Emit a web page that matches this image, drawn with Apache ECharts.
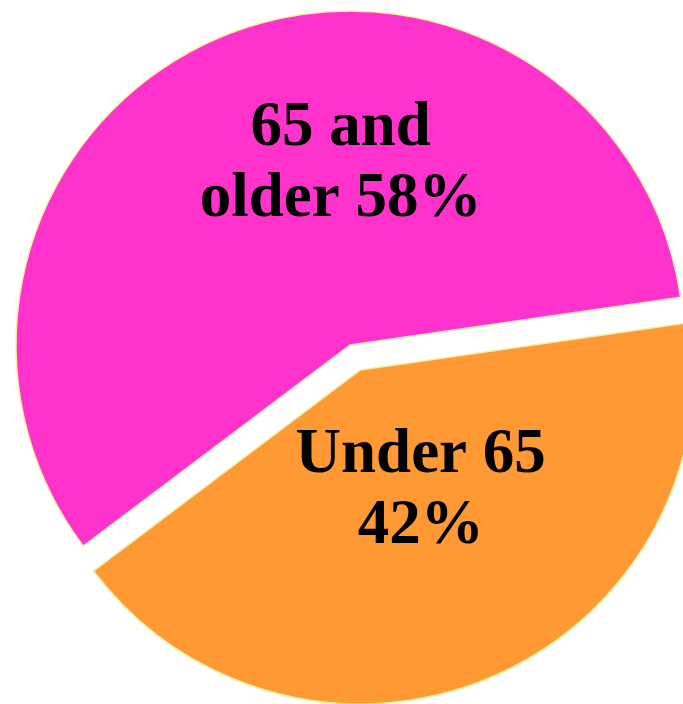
<!DOCTYPE html>
<html>
<head>
<meta charset="utf-8">
<script src="https://cdn.jsdelivr.net/npm/echarts@6/dist/echarts.min.js"></script>
<style>
  html, body { margin: 0; padding: 0; background: #ffffff; }
  #chart { width: 683px; height: 704px; }
</style>
</head>
<body>
<div id="chart"></div>
<script>
// data
const groupNames = ['65 and older', 'Under 65']
const shares = [58, 42]
const sliceColors = ['#FF33CC', '#FF9933']
const exploded = [false, true]

// label nudges (dx, dy) so text sits where the original has it
const labelNudge = [[56, -24], [-5, -36]]

const chart = echarts.init(document.getElementById('chart'))

const pieData = groupNames.map((name, i) => ({
  name: name,
  value: shares[i],
  selected: exploded[i],
  itemStyle: { color: sliceColors[i] }
}))

const options = {
  animation: false,
  series: [{
    type: 'pie',
    center: [350, 345],
    radius: 334,
    startAngle: 217,
    clockwise: true,
    selectedMode: 'single',
    selectedOffset: 27,
    avoidLabelOverlap: false,
    itemStyle: {
      borderColor: '#F3EEA8',
      borderWidth: 1.5
    },
    label: {
      show: true,
      position: 'inside',
      color: '#000000',
      fontFamily: '"Liberation Serif", "Times New Roman", serif',
      fontWeight: 'bold',
      fontSize: 63,
      lineHeight: 71,
      align: 'center',
      formatter: function (p) {
        if (p.dataIndex === 0) {
          return '65 and\nolder ' + p.value + '%'
        }
        return p.name + '\n' + p.value + '%'
      }
    },
    labelLine: { show: false },
    labelLayout: function (params) {
      const n = labelNudge[params.dataIndex]
      return { dx: n[0], dy: n[1] }
    },
    emphasis: { disabled: true },
    data: pieData
  }]
}

chart.setOption(options)
</script>
</body>
</html>
